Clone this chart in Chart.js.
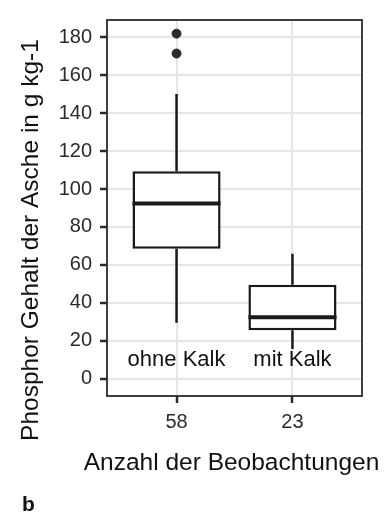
<!DOCTYPE html>
<html>
<head>
<meta charset="utf-8">
<script src="https://cdn.jsdelivr.net/npm/chart.js@4.4.1/dist/chart.umd.min.js"></script>
<style>
  html, body { margin: 0; padding: 0; background: #fff; }
  #wrap { width: 391px; height: 512px; }
</style>
</head>
<body>
<div id="wrap"><canvas id="grafico" width="391" height="512"></canvas></div>
<script>
// Daten
const gruppen = ['ohne Kalk', 'mit Kalk'];
const beobachtungen = ['58', '23'];
const whiskerUnten = [29.5, 15.6];
const quartil1 = [68.5, 25.5];
const median = [92.4, 32.4];
const quartil3 = [109.4, 49.5];
const whiskerOben = [150.2, 65.9];
const ausreisser = [[182, 171.5], []];
const yTicks = [0, 20, 40, 60, 80, 100, 120, 140, 160, 180];
const labelHoehe = 10;

const schrift = "'Liberation Sans', Arial, sans-serif";
Chart.defaults.font.family = schrift;

const boxplotPlugin = {
    id: 'boxplot',
    beforeDatasetsDraw(chart) {
        const { ctx, scales: { x, y } } = chart;
        ctx.save();
        ctx.strokeStyle = '#1a1a1a';
        ctx.lineWidth = 2.5;
        gruppen.forEach((g, i) => {
            const px = x.getPixelForValue(i + 1);
            ctx.beginPath();
            ctx.moveTo(px, y.getPixelForValue(whiskerOben[i]));
            ctx.lineTo(px, y.getPixelForValue(quartil3[i]));
            ctx.moveTo(px, y.getPixelForValue(quartil1[i]));
            ctx.lineTo(px, y.getPixelForValue(whiskerUnten[i]));
            ctx.stroke();
        });
        ctx.restore();
    },
    afterDatasetsDraw(chart) {
        const { ctx, scales: { x, y } } = chart;
        const meta = chart.getDatasetMeta(0);
        ctx.save();
        // Medianlinien
        ctx.strokeStyle = '#1a1a1a';
        ctx.lineWidth = 4;
        meta.data.forEach((bar, i) => {
            const py = y.getPixelForValue(median[i]);
            ctx.beginPath();
            ctx.moveTo(bar.x - bar.width / 2, py);
            ctx.lineTo(bar.x + bar.width / 2, py);
            ctx.stroke();
        });
        // Gruppenbeschriftung im Diagramm
        ctx.fillStyle = '#111';
        ctx.font = '22px ' + schrift;
        ctx.textAlign = 'center';
        ctx.textBaseline = 'middle';
        gruppen.forEach((g, i) => {
            ctx.fillText(g, x.getPixelForValue(i + 1), y.getPixelForValue(labelHoehe));
        });
        ctx.restore();
    },
    afterDraw(chart) {
        const { ctx, chartArea: a } = chart;
        ctx.save();
        ctx.strokeStyle = '#2b2b2b';
        ctx.lineWidth = 1.8;
        ctx.strokeRect(a.left, a.top, a.right - a.left, a.bottom - a.top);
        ctx.fillStyle = '#111';
        ctx.font = '24.5px ' + schrift;
        ctx.textAlign = 'center';
        ctx.textBaseline = 'middle';
        // x-Achsentitel
        ctx.fillText('Anzahl der Beobachtungen', (a.left + a.right) / 2 - 3, 463);
        // y-Achsentitel
        ctx.translate(31, 240);
        ctx.rotate(-Math.PI / 2);
        ctx.fillText('Phosphor Gehalt der Asche in g kg-1', 0, 0);
        ctx.restore();
        ctx.save();
        ctx.fillStyle = '#111';
        ctx.font = 'bold 21px ' + schrift;
        ctx.textBaseline = 'alphabetic';
        ctx.fillText('b', 22, 511);
        ctx.restore();
    }
};

const boxDaten = gruppen.map((g, i) => ({ x: i + 1, y: [quartil1[i], quartil3[i]] }));
const punktDaten = ausreisser.flatMap((werte, i) => werte.map(v => ({ x: i + 1, y: v })));

const config = {
    type: 'bar',
    data: {
        datasets: [{
            label: 'Box',
            data: boxDaten,
            backgroundColor: '#ffffff',
            borderColor: '#1a1a1a',
            borderWidth: 2.5,
            borderSkipped: false,
            barPercentage: 0.76,
            categoryPercentage: 1
        }, {
            type: 'scatter',
            label: 'Ausreißer',
            data: punktDaten,
            backgroundColor: '#2b2b2b',
            borderColor: '#2b2b2b',
            pointRadius: 4.5
        }]
    },
    options: {
        responsive: false,
        animation: false,
        layout: { padding: { top: 15, right: 29, bottom: 26, left: 0 } },
        plugins: {
            legend: { display: false },
            tooltip: { enabled: false }
        },
        scales: {
            x: {
                type: 'linear',
                min: 0.4,
                max: 2.6,
                offset: false,
                afterBuildTicks: s => { s.ticks = beobachtungen.map((b, i) => ({ value: i + 1 })); },
                afterFit: s => { s.height = 90; },
                ticks: {
                    callback: v => beobachtungen[v - 1],
                    color: '#2b2b2b',
                    font: { size: 20 },
                    padding: 7,
                    maxRotation: 0
                },
                grid: { offset: false, color: '#e6e6e6', lineWidth: 2, tickColor: '#2b2b2b', tickLength: 7, tickWidth: 2.5 },
                border: { display: false }
            },
            y: {
                min: -9.2,
                max: 189.2,
                afterBuildTicks: s => { s.ticks = yTicks.map(v => ({ value: v })); },
                afterFit: s => { s.width = 107; },
                ticks: { color: '#2b2b2b', font: { size: 20 }, padding: 8 },
                grid: { color: '#e6e6e6', lineWidth: 2, tickColor: '#2b2b2b', tickLength: 7, tickWidth: 2.5 },
                border: { display: false }
            }
        }
    },
    plugins: [boxplotPlugin]
};

const grafico = new Chart(document.getElementById('grafico'), config);
</script>
</body>
</html>
